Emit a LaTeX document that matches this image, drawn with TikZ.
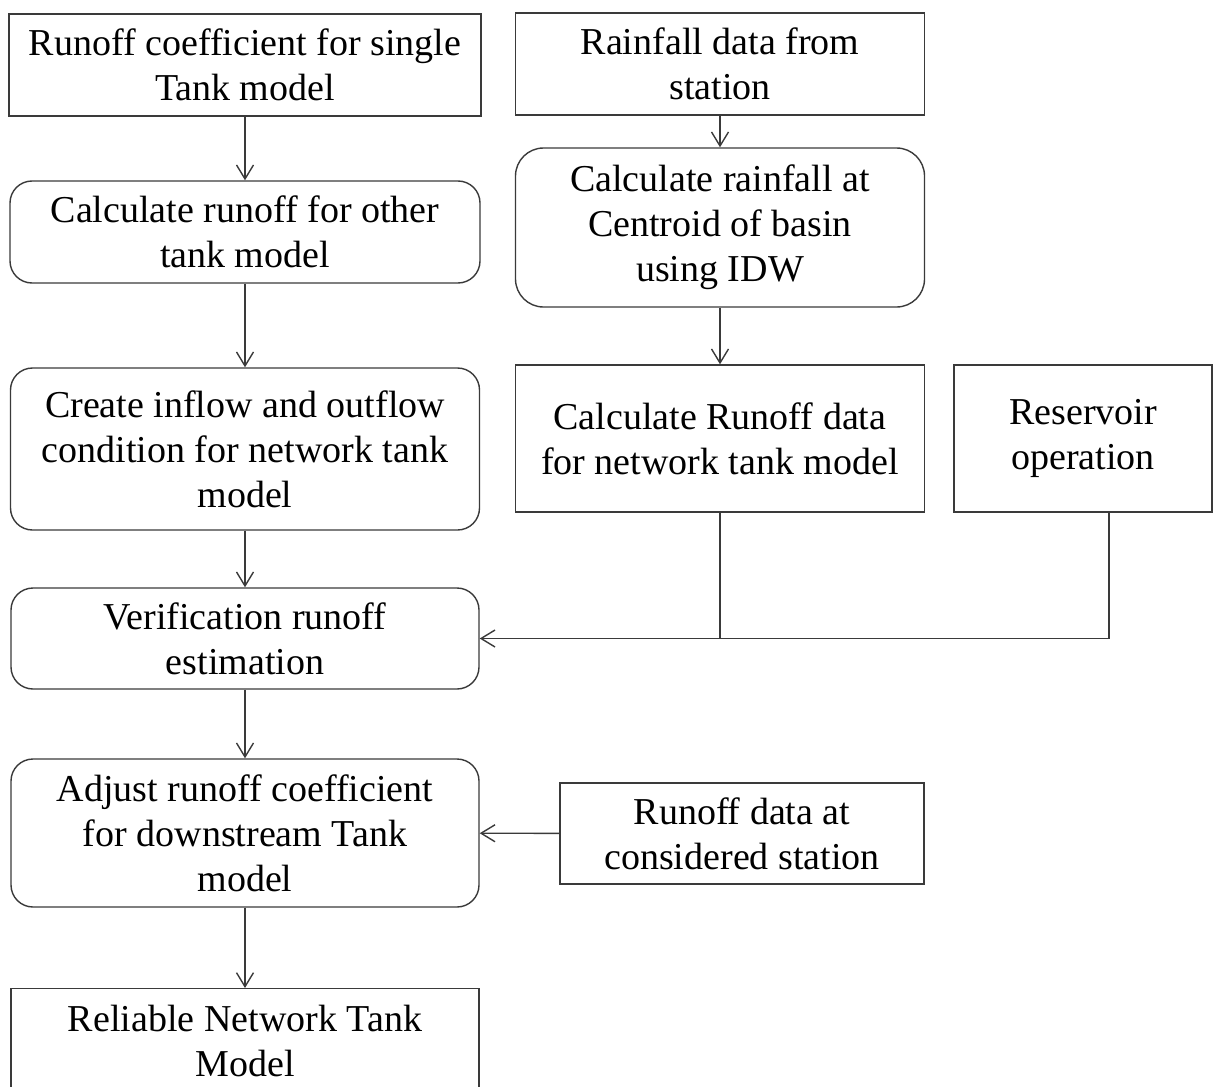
\documentclass[tikz,border=0pt]{standalone}
\usepackage{fontspec}
\setmainfont{Liberation Serif}
\usetikzlibrary{arrows.meta,calc}
\definecolor{linecol}{HTML}{3A3A3A}
\tikzset{
  boxbase/.style={draw=linecol, line width=1.4pt, align=center, inner sep=0pt,
    font=\fontsize{38}{45}\selectfont, text=black},
  sqbox/.style={boxbase},
  rbox/.style={boxbase, rounded corners=22pt},
  arr/.style={draw=linecol, line width=1.4pt, -{Straight Barb[length=14pt,width=17pt,line width=1.4pt]}},
  plain/.style={draw=linecol, line width=1.4pt}
}
\begin{document}
\begin{tikzpicture}[x=1pt,y=-1pt]
\useasboundingbox (0,0) rectangle (1214,1086);
% left column
\node[sqbox, minimum width=472pt, minimum height=102pt] (b1) at (245,65) {Runoff coefficient for single\\Tank model};
\node[rbox, minimum width=470pt, minimum height=102pt] (b3) at (245,232) {Calculate runoff for other\\tank model};
\node[rbox, minimum width=469pt, minimum height=162pt] (b5) at (245,449) {Create inflow and outflow\\condition for network tank\\model};
\node[rbox, minimum width=468pt, minimum height=101pt] (b8) at (245,638.5) {Verification runoff\\estimation};
\node[rbox, minimum width=468pt, minimum height=148pt] (b9) at (245,833) {Adjust runoff coefficient\\for downstream Tank\\model};
\node[sqbox, minimum width=468pt, minimum height=104pt, anchor=north] (b11) at (245,988) {Reliable Network Tank\\Model};
% middle column
\node[sqbox, minimum width=409pt, minimum height=102pt] (b2) at (720,64) {Rainfall data from\\station};
\node[rbox, rounded corners=28pt, minimum width=409pt, minimum height=159pt] (b4) at (720,227.5) {Calculate rainfall at\\Centroid of basin\\using IDW};
\node[sqbox, minimum width=409pt, minimum height=147pt] (b6) at (720,438.5) {Calculate Runoff data\\for network tank model};
\node[sqbox, minimum width=364pt, minimum height=101pt] (b10) at (742,833.5) {Runoff data at\\considered station};
% right
\node[sqbox, minimum width=258pt, minimum height=147pt] (b7) at (1083,438.5) {Reservoir\\operation};
% connectors
\draw[arr] (b1) -- (b3);
\draw[arr] (b3) -- (b5);
\draw[arr] (b5) -- (b8);
\draw[arr] (b8) -- (b9);
\draw[arr] (b9) -- (b11);
\draw[arr] (b2) -- (b4);
\draw[arr] (b4) -- (b6);
\coordinate (j7) at ($(b7.south west)!0.6!(b7.south east)$);
\draw[arr] (j7) |- (b8.east);
\draw[plain] (b6.south) -- (b6.south |- b8.east);
\draw[arr] (b10) -- (b9);
\end{tikzpicture}
\end{document}
